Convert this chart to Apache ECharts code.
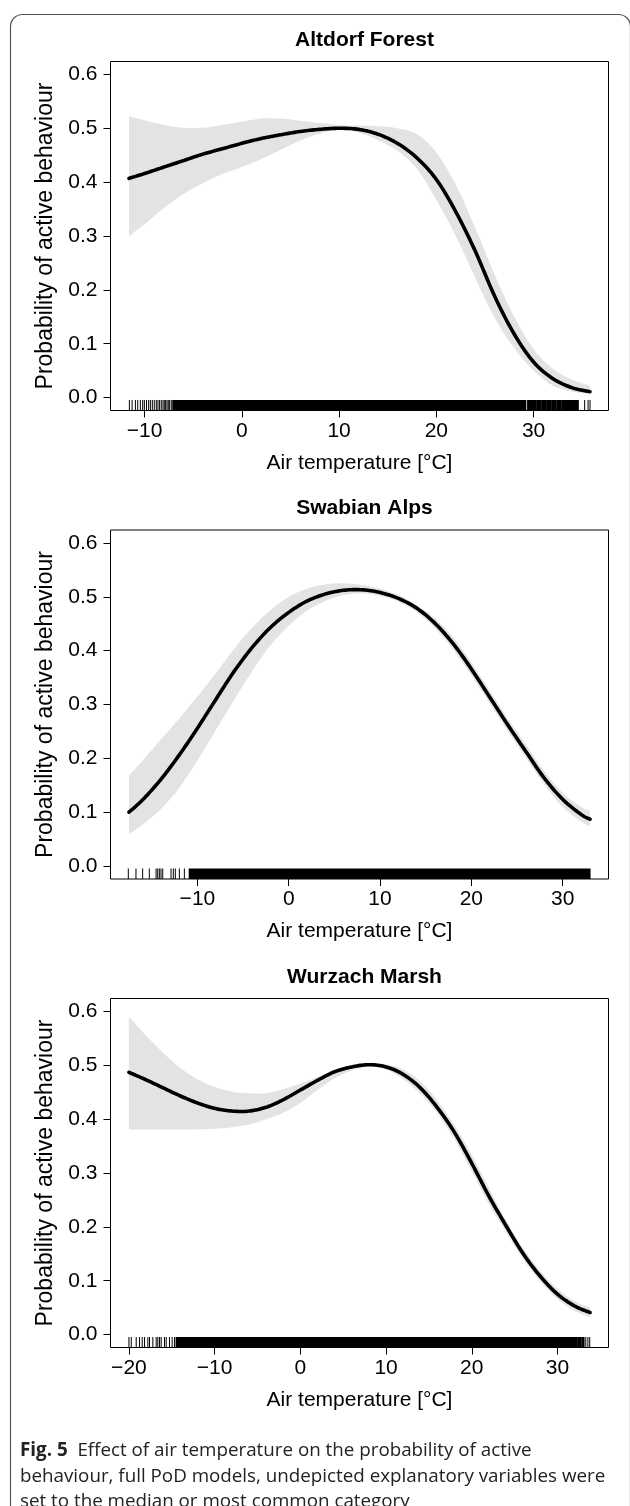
<!DOCTYPE html>
<html><head><meta charset="utf-8">
<script src="https://cdn.jsdelivr.net/npm/echarts@6/dist/echarts.min.js"></script>
<style>html,body{margin:0;padding:0;background:#fff}#c{width:630px;height:1506px}</style>
</head><body><div id="c"></div>
<script>
// ---------- labels ----------
const panelTitles = ['Altdorf Forest', 'Swabian Alps', 'Wurzach Marsh'];
const xAxisTitle = 'Air temperature [°C]';
const yAxisTitle = 'Probability of active behaviour';
const xTickValues = [[-10, 0, 10, 20, 30], [-10, 0, 10, 20, 30], [-20, -10, 0, 10, 20, 30]];
const yTickValues = [0, 0.1, 0.2, 0.3, 0.4, 0.5, 0.6];
const xLimits = [[-13.5, 37.7], [-19.52, 35.02], [-22.15, 35.95]];
const yLimits = [-0.024, 0.624];
const captionLead = 'Fig. 5';
const captionLines = [
  'Effect of air temperature on the probability of active',
  'behaviour, full PoD models, undepicted explanatory variables were',
  'set to the median or most common category'
];

// ---------- Altdorf Forest ----------
const altX     = [-11.6, -10, -8, -6, -4, -2, 0, 2, 4, 6, 8, 10, 12, 14, 16, 18, 20, 22, 24, 26, 28, 30, 32, 34, 35.8];
const altFit   = [0.407, 0.416, 0.428, 0.440, 0.452, 0.462, 0.472, 0.481, 0.488, 0.494, 0.498, 0.500, 0.498, 0.489, 0.472, 0.445, 0.405, 0.345, 0.272, 0.188, 0.118, 0.066, 0.035, 0.018, 0.011];
const altUpper = [0.522, 0.515, 0.506, 0.501, 0.501, 0.506, 0.512, 0.518, 0.518, 0.514, 0.510, 0.506, 0.505, 0.504, 0.500, 0.489, 0.455, 0.395, 0.315, 0.228, 0.150, 0.090, 0.053, 0.033, 0.022];
const altLower = [0.300, 0.322, 0.352, 0.378, 0.398, 0.415, 0.428, 0.443, 0.460, 0.477, 0.490, 0.497, 0.492, 0.478, 0.458, 0.425, 0.367, 0.300, 0.222, 0.148, 0.092, 0.050, 0.022, 0.011, 0.007];
const altRugTicks = [-11.56, -11.28, -10.94, -10.7, -10.43, -10.19, -10.02, -9.8, -9.58, -9.4, -9.2, -9.0, -8.79, -8.62, -8.45, -8.28, -8.1, -7.97, -7.83, -7.69, -7.56, -7.42, -7.25, 35.25, 35.6, 35.8];
const altRugDense = [[-7.1, 29.2], [29.38, 30.28], [30.36, 30.79], [30.87, 31.31], [31.39, 31.82], [31.9, 32.33], [32.41, 32.84], [32.92, 33.29], [33.37, 33.81], [33.89, 34.6]];

// ---------- Swabian Alps ----------
const swaX     = [-17.5, -16, -14, -12, -10, -8, -6, -4, -2, 0, 2, 4, 6, 8, 10, 12, 14, 16, 18, 20, 22, 24, 26, 28, 30, 32, 33];
const swaFit   = [0.100, 0.123, 0.161, 0.206, 0.256, 0.309, 0.361, 0.406, 0.443, 0.471, 0.492, 0.505, 0.512, 0.513, 0.508, 0.497, 0.479, 0.451, 0.413, 0.366, 0.314, 0.262, 0.212, 0.163, 0.124, 0.096, 0.087];
const swaUpper = [0.168, 0.196, 0.235, 0.274, 0.315, 0.358, 0.403, 0.443, 0.475, 0.500, 0.515, 0.523, 0.525, 0.522, 0.515, 0.503, 0.485, 0.460, 0.425, 0.378, 0.326, 0.274, 0.225, 0.176, 0.136, 0.110, 0.102];
const swaLower = [0.059, 0.077, 0.106, 0.145, 0.196, 0.252, 0.308, 0.362, 0.410, 0.446, 0.474, 0.492, 0.503, 0.506, 0.502, 0.491, 0.472, 0.442, 0.402, 0.354, 0.302, 0.250, 0.200, 0.151, 0.110, 0.083, 0.074];
const swaRugTicks = [-17.57, -16.73, -16.0, -15.27, -14.53, -14.35, -14.17, -13.99, -13.8, -12.89, -12.64, -12.42, -11.98, -11.43];
const swaRugDense = [[-10.9, 33.0]];

// ---------- Wurzach Marsh ----------
const wurX     = [-20, -18, -16, -14, -12, -10, -8, -6, -4, -2, 0, 2, 4, 6, 8, 10, 12, 14, 16, 18, 20, 22, 24, 26, 28, 30, 32, 33.8];
const wurFit   = [0.487, 0.473, 0.458, 0.443, 0.430, 0.420, 0.415, 0.415, 0.422, 0.436, 0.454, 0.472, 0.488, 0.497, 0.501, 0.497, 0.483, 0.458, 0.421, 0.375, 0.318, 0.257, 0.202, 0.150, 0.108, 0.075, 0.053, 0.041];
const wurUpper = [0.590, 0.555, 0.523, 0.495, 0.474, 0.460, 0.451, 0.448, 0.448, 0.456, 0.466, 0.478, 0.491, 0.500, 0.504, 0.502, 0.492, 0.470, 0.434, 0.388, 0.334, 0.272, 0.212, 0.160, 0.118, 0.085, 0.062, 0.050];
const wurLower = [0.381, 0.381, 0.381, 0.381, 0.381, 0.382, 0.385, 0.390, 0.400, 0.412, 0.430, 0.454, 0.476, 0.490, 0.498, 0.492, 0.474, 0.447, 0.410, 0.362, 0.303, 0.242, 0.190, 0.140, 0.098, 0.066, 0.044, 0.032];
const wurRugTicks = [-20.0, -19.73, -19.15, -18.76, -18.45, -18.18, -17.79, -17.6, -17.21, -16.82, -16.63, -16.43, -16.24, -15.85, -15.65, -15.27, -14.96, -14.69, 33.3, 33.55, 33.76];
const wurRugDense = [[-14.5, 32.25], [32.35, 32.75], [32.85, 33.1]];

const panels = [
  { x: altX, fit: altFit, up: altUpper, lo: altLower, rug: altRugTicks, dense: altRugDense },
  { x: swaX, fit: swaFit, up: swaUpper, lo: swaLower, rug: swaRugTicks, dense: swaRugDense },
  { x: wurX, fit: wurFit, up: wurUpper, lo: wurLower, rug: wurRugTicks, dense: wurRugDense }
];

// ---------- layout ----------
const FONT = '"Liberation Sans", Arial, Helvetica, sans-serif';
const gridTops = [61.5, 530, 998.5];
const gridLeft = 110.5, gridW = 498, gridH = 349;
const RUG_TOP = -0.0045; // top of rug ticks (R rug ticklen) in data units
const bandColor = '#e3e3e3';

// Catmull-Rom smoothing of a pixel polyline (rendering only)
function smoothPath(pts, n) {
  if (pts.length < 3) return pts.slice();
  const out = [];
  for (let i = 0; i < pts.length - 1; i++) {
    const p0 = pts[Math.max(i - 1, 0)], p1 = pts[i], p2 = pts[i + 1], p3 = pts[Math.min(i + 2, pts.length - 1)];
    for (let s = 0; s < n; s++) {
      const t = s / n, t2 = t * t, t3 = t2 * t;
      const f = (a, b, c, d) => 0.5 * ((2 * b) + (-a + c) * t + (2 * a - 5 * b + 4 * c - d) * t2 + (-a + 3 * b - 3 * c + d) * t3);
      out.push([f(p0[0], p1[0], p2[0], p3[0]), f(p0[1], p1[1], p2[1], p3[1])]);
    }
  }
  out.push(pts[pts.length - 1]);
  return out;
}

const chart = echarts.init(document.getElementById('c'), null, { renderer: 'canvas' });

const grids = [], xAxes = [], yAxes = [], series = [], titles = [];
panels.forEach((p, i) => {
  grids.push({ left: gridLeft, top: gridTops[i], width: gridW, height: gridH, show: true,
    borderColor: '#000', borderWidth: 1, backgroundColor: 'transparent', containLabel: false });
  titles.push({ text: panelTitles[i], left: gridLeft + gridW / 2, top: gridTops[i] - 37, textAlign: 'center',
    textStyle: { fontFamily: FONT, fontSize: 21, fontWeight: 'bold', color: '#000' } });
  xAxes.push({ type: 'value', gridIndex: i, min: xLimits[i][0], max: xLimits[i][1],
    name: xAxisTitle, nameLocation: 'middle', nameGap: 42,
    nameTextStyle: { fontFamily: FONT, fontSize: 21, color: '#000' },
    axisLine: { show: false, onZero: false }, splitLine: { show: false },
    axisTick: { show: true, inside: false, length: 7, lineStyle: { color: '#000', width: 1 }, customValues: xTickValues[i] },
    axisLabel: { show: true, margin: 10, fontFamily: FONT, fontSize: 21, color: '#000', customValues: xTickValues[i],
      formatter: v => String(v).replace('-', '\u2212') } });
  yAxes.push({ type: 'value', gridIndex: i, min: yLimits[0], max: yLimits[1],
    name: yAxisTitle, nameLocation: 'middle', nameGap: 50,
    nameTextStyle: { fontFamily: FONT, fontSize: 23, color: '#000' },
    axisLine: { show: false, onZero: false }, splitLine: { show: false },
    axisTick: { show: true, inside: false, length: 7, lineStyle: { color: '#000', width: 1 }, customValues: yTickValues },
    axisLabel: { show: true, margin: 13, fontFamily: FONT, fontSize: 21, color: '#000', customValues: yTickValues,
      formatter: v => v.toFixed(1) } });

  // confidence band as one polygon: upper boundary forward, lower boundary back
  series.push({ type: 'custom', xAxisIndex: i, yAxisIndex: i, silent: true, z: 1,
    data: p.x.map((x, k) => [x, p.lo[k], p.up[k]]),
    encode: { x: 0, y: [1, 2] },
    renderItem: (params, api) => {
      if (params.dataIndex !== 0) return null;
      const up = p.x.map((x, k) => api.coord([x, p.up[k]]));
      const lo = p.x.map((x, k) => api.coord([x, p.lo[k]]));
      const pts = smoothPath(up, 10).concat(smoothPath(lo, 10).reverse());
      return { type: 'polygon', shape: { points: pts }, style: { fill: bandColor, stroke: null } };
    } });

  // rug: dense blocks
  series.push({ type: 'custom', xAxisIndex: i, yAxisIndex: i, silent: true, z: 3,
    data: p.dense,
    renderItem: (params, api) => {
      const a = api.coord([api.value(0), yLimits[0]]);
      const b = api.coord([api.value(1), RUG_TOP]);
      return { type: 'rect', shape: { x: a[0] - 0.5, y: b[1], width: b[0] - a[0] + 1, height: a[1] - b[1] },
        style: { fill: '#000' } };
    } });
  // rug: individual ticks
  series.push({ type: 'custom', xAxisIndex: i, yAxisIndex: i, silent: true, z: 3,
    data: p.rug.map(v => [v, 0]),
    renderItem: (params, api) => {
      const a = api.coord([api.value(0), yLimits[0]]);
      const b = api.coord([api.value(0), RUG_TOP]);
      return { type: 'line', shape: { x1: a[0], y1: a[1], x2: b[0], y2: b[1] },
        style: { stroke: '#000', lineWidth: 1 } };
    } });
  // fitted curve
  series.push({ type: 'custom', xAxisIndex: i, yAxisIndex: i, silent: true, z: 5,
    data: p.x.map((x, k) => [x, p.fit[k]]),
    renderItem: (params, api) => {
      if (params.dataIndex !== 0) return null;
      const pts = smoothPath(p.x.map((x, k) => api.coord([x, p.fit[k]])), 10);
      return { type: 'polyline', shape: { points: pts },
        style: { stroke: '#000', lineWidth: 3.6, fill: null, lineCap: 'round', lineJoin: 'round' } };
    } });
});

const captionFont = '"Open Sans", "Noto Sans", sans-serif';
const CAP = 18.8;
const graphic = [
  { type: 'rect', left: 8, top: 12, shape: { width: 620, height: 1530, r: 12 }, silent: true,
    style: { fill: 'none', stroke: '#555', lineWidth: 1.2 } },
  { type: 'text', left: 20, top: 1441, silent: true,
    style: { text: '{b|' + captionLead + '}  ' + captionLines[0], fontFamily: captionFont, fontSize: CAP, fill: '#222',
      rich: { b: { fontWeight: 'bold', fontFamily: captionFont, fontSize: CAP, fill: '#222' } } } },
  { type: 'text', left: 20, top: 1467, silent: true,
    style: { text: captionLines[1], fontFamily: captionFont, fontSize: CAP, fill: '#222' } },
  { type: 'text', left: 20, top: 1492, silent: true,
    style: { text: captionLines[2], fontFamily: captionFont, fontSize: CAP, fill: '#222' } }
];

chart.setOption({ animation: false, backgroundColor: '#fff', title: titles, grid: grids,
  xAxis: xAxes, yAxis: yAxes, series: series, graphic: graphic });
</script></body></html>
